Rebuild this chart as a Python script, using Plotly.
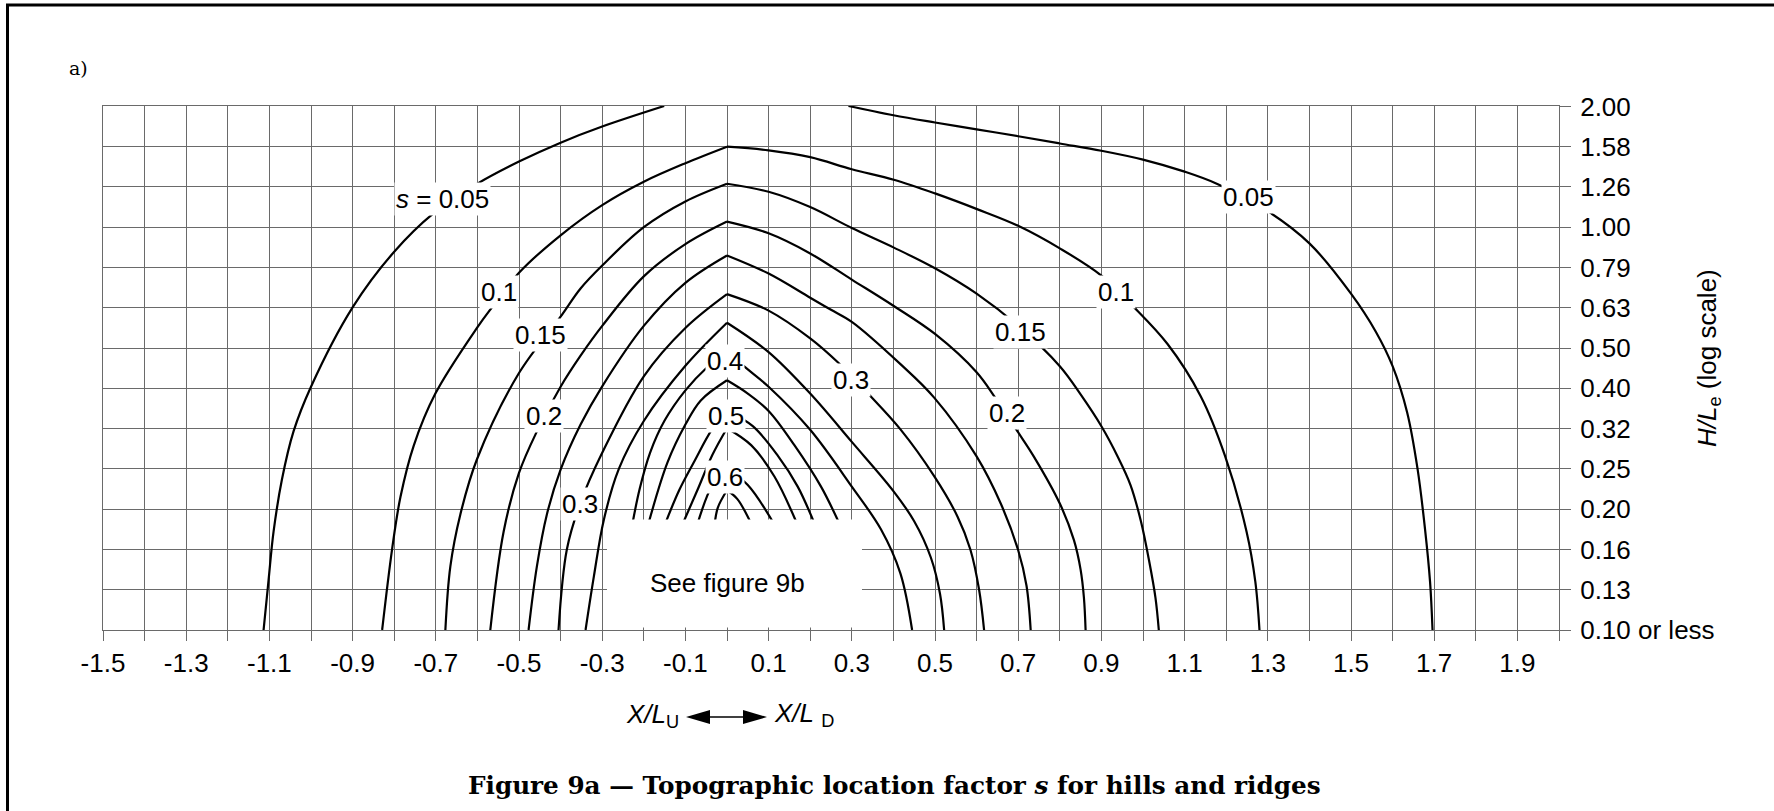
import numpy as np
import plotly.graph_objects as go

# Curves of constant s. x is X/L (upwind negative),
# the second list is log10(H/Le) so the points sit on the log axis grid.

# s = 0.05 leaves through the top of the chart, so it comes in two pieces
s005_left_x = [-1.114, -1.102, -1.09, -1.07, -1.042, -1.0, -0.9, -0.801, -0.705, -0.6, -0.5, -0.4, -0.3, -0.151]
s005_left_logh = [-1.0, -0.876, -0.756, -0.627, -0.507, -0.396, -0.199, -0.062, 0.035, 0.108, 0.163, 0.21, 0.25, 0.301]
s005_right_x = [0.292, 0.4, 0.5, 0.6, 0.7, 0.8, 0.9, 1.0, 1.1, 1.18, 1.3, 1.4, 1.5, 1.56, 1.6, 1.635,
                1.66, 1.678, 1.69, 1.696]
s005_right_logh = [0.301, 0.278, 0.26, 0.243, 0.226, 0.208, 0.19, 0.168, 0.138, 0.107, 0.04, -0.04, -0.165,
                   -0.26, -0.345, -0.46, -0.6, -0.75, -0.88, -1.0]

# the others are arches: left foot -> crest at X = 0 -> right foot
s010_x = [-0.829, -0.805, -0.785, -0.753, -0.701, -0.601, -0.565, -0.5, -0.4, -0.3, -0.2, -0.1, 0.0,
          0.1, 0.2, 0.3, 0.401, 0.5, 0.601, 0.701, 0.801, 0.9, 0.974, 1.059, 1.139, 1.197, 1.249,
          1.27, 1.28]
s010_logh = [-1.0, -0.799, -0.67, -0.542, -0.413, -0.25, -0.199, -0.113, -0.02, 0.055, 0.113, 0.159, 0.2,
             0.191, 0.174, 0.144, 0.118, 0.084, 0.045, 0.003, -0.053, -0.12, -0.194, -0.29, -0.42, -0.567,
             -0.756, -0.88, -1.0]

s015_x = [-0.677, -0.665, -0.641, -0.601, -0.5, -0.4, -0.352, -0.3, -0.2, -0.1, 0.0,
          0.1, 0.2, 0.3, 0.4, 0.5, 0.6, 0.7, 0.8, 0.85, 0.9, 0.939, 0.97, 0.995, 1.015, 1.03, 1.038]
s015_logh = [-1.0, -0.842, -0.713, -0.576, -0.362, -0.222, -0.152, -0.095, 0.0, 0.064, 0.108,
             0.088, 0.05, -0.002, -0.05, -0.102, -0.165, -0.245, -0.345, -0.415, -0.494, -0.569,
             -0.64, -0.73, -0.83, -0.92, -1.0]

s020_x = [-0.569, -0.537, -0.5, -0.457, -0.4, -0.352, -0.3, -0.2, -0.1, 0.0,
          0.1, 0.2, 0.3, 0.4, 0.5, 0.6, 0.646, 0.694, 0.738, 0.8, 0.834, 0.85, 0.858, 0.862]
s020_logh = [-1.0, -0.756, -0.61, -0.507, -0.396, -0.319, -0.245, -0.122, -0.042, 0.014,
             -0.015, -0.065, -0.13, -0.195, -0.265, -0.36, -0.425, -0.5, -0.57, -0.686, -0.777, -0.85,
             -0.92, -1.0]

s025_x = [-0.477, -0.457, -0.433, -0.4, -0.352, -0.3, -0.2, -0.1, 0.0,
          0.1, 0.2, 0.25, 0.3, 0.417, 0.498, 0.6, 0.658, 0.7, 0.72, 0.73]
s025_logh = [-1.0, -0.842, -0.713, -0.602, -0.49, -0.395, -0.245, -0.138, -0.07,
             -0.115, -0.175, -0.205, -0.235, -0.34, -0.423, -0.569, -0.686, -0.802, -0.89, -1.0]

s030_x = [-0.405, -0.385, -0.352, -0.3, -0.2, -0.1, 0.0,
          0.1, 0.2, 0.267, 0.339, 0.417, 0.498, 0.554, 0.585, 0.606, 0.618]
s030_logh = [-1.0, -0.8, -0.683, -0.56, -0.37, -0.25, -0.166,
             -0.207, -0.276, -0.336, -0.413, -0.502, -0.618, -0.718, -0.8, -0.9, -1.0]

s035_x = [-0.34, -0.32, -0.296, -0.26, -0.2, -0.1, 0.0, 0.1, 0.2, 0.3, 0.4, 0.45, 0.49, 0.512, 0.522]
s035_logh = [-1.0, -0.867, -0.726, -0.6, -0.481, -0.344, -0.237, -0.31, -0.413, -0.533, -0.655, -0.73,
             -0.82, -0.91, -1.0]

s040_x = [-0.228, -0.21, -0.185, -0.15, -0.1, -0.05, 0.0, 0.05, 0.1, 0.2, 0.3, 0.37, 0.417, 0.445]
s040_logh = [-0.74, -0.65, -0.56, -0.48, -0.405, -0.35, -0.31, -0.353, -0.396, -0.503, -0.644, -0.75,
             -0.86, -1.0]

s045_x = [-0.19, -0.143, -0.1, -0.063, 0.0, 0.05, 0.1, 0.162, 0.226, 0.272]
s045_logh = [-0.74, -0.584, -0.49, -0.43, -0.38, -0.413, -0.456, -0.541, -0.644, -0.74]

s050_x = [-0.15, -0.115, -0.08, -0.035, 0.0, 0.062, 0.122, 0.17, 0.212]
s050_logh = [-0.74, -0.653, -0.584, -0.5, -0.455, -0.494, -0.567, -0.644, -0.74]

s055_x = [-0.108, -0.07, -0.035, 0.0, 0.058, 0.114, 0.17]
s055_logh = [-0.74, -0.65, -0.565, -0.499, -0.541, -0.619, -0.74]

s060_x = [-0.072, -0.035, 0.0, 0.05, 0.115]
s060_logh = [-0.74, -0.64, -0.6, -0.64, -0.74]

s065_x = [-0.03, -0.022, 0.0, 0.025, 0.06]
s065_logh = [-0.74, -0.696, -0.653, -0.675, -0.74]

# curve labels: text, X/L, log10(H/Le)
contour_labels = [
    ("<i>s</i> = 0.05", -0.685, 0.071),
    ("0.1", -0.549, -0.16),
    ("0.15", -0.449, -0.267),
    ("0.2", -0.441, -0.469),
    ("0.3", -0.353, -0.687),
    ("0.4", -0.006, -0.332),
    ("0.5", -0.002, -0.469),
    ("0.6", -0.006, -0.619),
    ("0.3", 0.299, -0.379),
    ("0.2", 0.674, -0.462),
    ("0.15", 0.706, -0.26),
    ("0.1", 0.934, -0.16),
    ("0.05", 1.253, 0.075),
]

x_tick_vals = np.round(np.arange(-1.5, 2.01, 0.1), 1)
x_tick_text = [f"{v:.1f}" if i % 2 == 0 else "" for i, v in enumerate(x_tick_vals)]
y_tick_vals = 10 ** (np.arange(-10, 4) / 10)
y_tick_text = ["0.10 or less", "0.13", "0.16", "0.20", "0.25", "0.32", "0.40",
               "0.50", "0.63", "0.79", "1.00", "1.26", "1.58", "2.00"]

arches = [
    (s010_x, s010_logh), (s015_x, s015_logh), (s020_x, s020_logh), (s025_x, s025_logh),
    (s030_x, s030_logh), (s035_x, s035_logh), (s040_x, s040_logh), (s045_x, s045_logh),
    (s050_x, s050_logh), (s055_x, s055_logh), (s060_x, s060_logh), (s065_x, s065_logh),
]

# page geometry in window pixels (the body margin is removed below)
W, H = 1774, 811
L_M, R_M, T_M, B_M = 103, 215, 106, 181
PLOT_W, PLOT_H = W - L_M - R_M, H - T_M - B_M


def paper_x(px):
    return (px - L_M) / PLOT_W


def paper_y(py):
    return (H - B_M - py) / PLOT_H


SANS = "Liberation Sans, Arial, Helvetica, sans-serif"
SERIF = "DejaVu Serif, Liberation Serif, serif"
GRID = "#6a6a6a"
line_style = dict(color="black", width=2.2, shape="spline", smoothing=1.0)

fig = go.Figure()

pieces = [(s005_left_x, s005_left_logh), (s005_right_x, s005_right_logh)]
for xs, ls in arches:
    # split each arch at the crest so the corner stays sharp
    k = xs.index(0.0)
    pieces.append((xs[:k + 1], ls[:k + 1]))
    pieces.append((xs[k:], ls[k:]))

for xs, ls in pieces:
    fig.add_trace(go.Scatter(
        x=xs,
        y=10 ** np.array(ls),
        mode="lines",
        line=line_style,
        hoverinfo="skip",
        showlegend=False,
    ))

# blank panel that refers to figure 9b
fig.add_shape(type="rect", xref="x", yref="y", x0=-0.2885, x1=0.3245, y0=0.1015, y1=0.188,
              fillcolor="white", line=dict(width=0), layer="above")
fig.add_annotation(x=0.0, y=-0.884, xref="x", yref="y", text="See figure 9b", showarrow=False,
                   font=dict(family=SANS, size=26, color="black"))

for text, x, logh in contour_labels:
    fig.add_annotation(x=x, y=logh, xref="x", yref="y", text=text, showarrow=False,
                       bgcolor="white", borderpad=1,
                       font=dict(family=SANS, size=26, color="black"))


def page_text(px, py, text, font, xanchor="center", **kw):
    fig.add_annotation(x=paper_x(px), y=paper_y(py), xref="paper", yref="paper", text=text,
                       showarrow=False, xanchor=xanchor, yanchor="middle", font=font, **kw)


label_font = dict(family=SANS, size=26, color="black")
page_text(1708, 358, "<i>H/L</i><sub>e</sub> (log scale)", label_font, textangle=-90)
page_text(681, 716, "<i>X/L</i><sub>U</sub>", label_font, xanchor="right")
page_text(772, 714, "<i>X/L</i> <sub>D</sub>", label_font, xanchor="left")

# double arrow between the two labels
ay = paper_y(717)
fig.add_shape(type="line", xref="paper", yref="paper", x0=paper_x(708), x1=paper_x(746), y0=ay, y1=ay,
              line=dict(color="black", width=1.5))
for tip, base in ((686, 710), (767, 743)):
    fig.add_shape(type="path", xref="paper", yref="paper",
                  path=f"M {paper_x(tip)},{ay} L {paper_x(base)},{paper_y(710)} "
                       f"L {paper_x(base)},{paper_y(724)} Z",
                  fillcolor="black", line=dict(color="black", width=0))

page_text(78, 68, "a)", dict(family=SERIF, size=19, color="black"))
page_text(895, 785, "<b>Figure 9a — Topographic location factor <i>s</i> for hills and ridges</b>",
          dict(family=SERIF, size=24.7, color="black"))

# frame round the page (only its top and left edges are in view)
fig.add_shape(type="line", xref="paper", yref="paper", x0=paper_x(6), x1=paper_x(W),
              y0=paper_y(5), y1=paper_y(5), line=dict(color="black", width=3))
fig.add_shape(type="line", xref="paper", yref="paper", x0=paper_x(7.5), x1=paper_x(7.5),
              y0=paper_y(4), y1=paper_y(H), line=dict(color="black", width=3))

fig.update_layout(
    width=W,
    height=H,
    margin=dict(l=L_M, r=R_M, t=T_M, b=B_M, pad=0),
    paper_bgcolor="white",
    plot_bgcolor="white",
    showlegend=False,
    font=dict(family=SANS, size=26, color="black"),
    xaxis=dict(
        range=[-1.5, 2.0],
        tickvals=x_tick_vals,
        ticktext=x_tick_text,
        ticks="outside",
        ticklen=10,
        tickcolor=GRID,
        tickwidth=1,
        ticklabelstandoff=0,
        showgrid=True,
        gridcolor=GRID,
        gridwidth=1,
        zeroline=False,
        showline=True,
        linecolor=GRID,
        linewidth=1,
        mirror=True,
        tickfont=dict(family=SANS, size=26, color="black"),
    ),
    yaxis=dict(
        type="log",
        side="right",
        range=[-1.0, np.log10(2.0)],
        tickvals=y_tick_vals,
        ticktext=y_tick_text,
        ticks="outside",
        ticklen=11,
        tickcolor=GRID,
        tickwidth=1,
        ticklabelstandoff=4,
        showgrid=True,
        gridcolor=GRID,
        gridwidth=1,
        zeroline=False,
        showline=True,
        linecolor=GRID,
        linewidth=1,
        mirror=True,
        tickfont=dict(family=SANS, size=26, color="black"),
    ),
)

# drop the default body margin so the figure fills the window exactly
fig.write_html(
    "out.html",
    config={"displayModeBar": False},
    post_script="document.body.style.margin = '0'; document.body.style.overflow = 'hidden';",
)
